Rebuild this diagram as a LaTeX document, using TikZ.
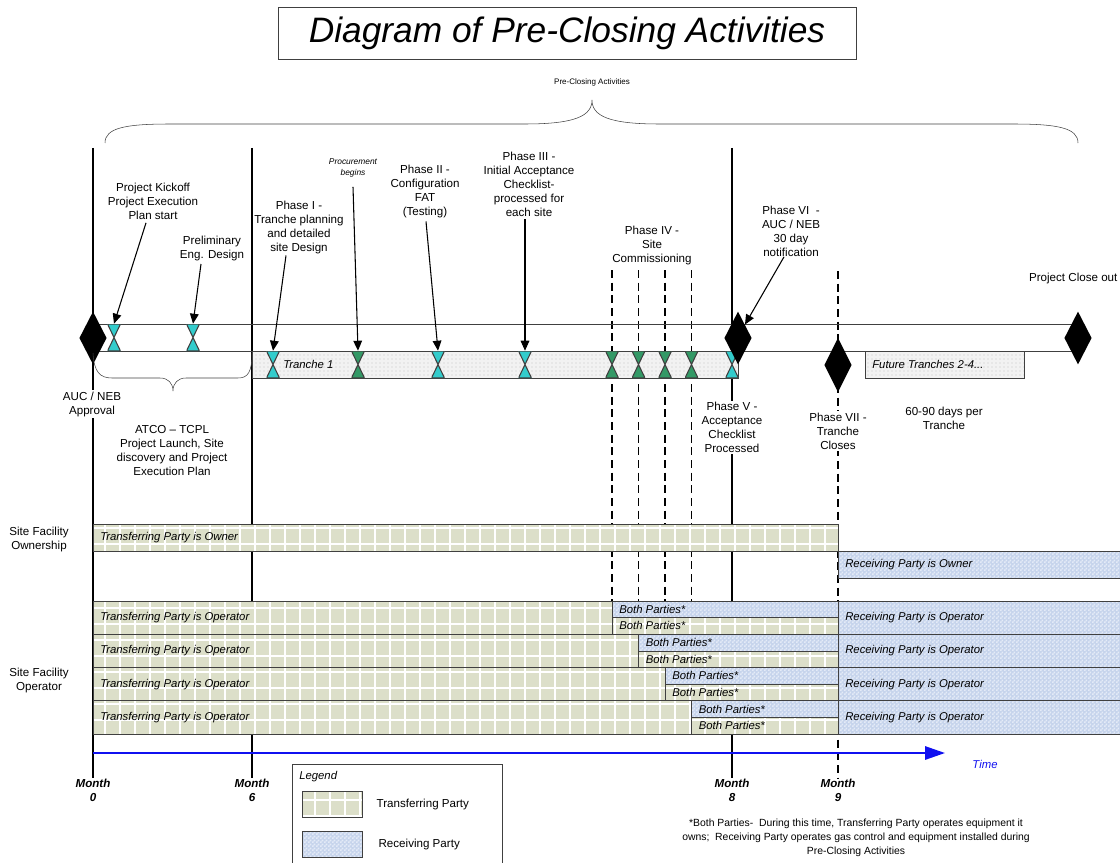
\documentclass[tikz,border=0pt]{standalone}
\usepackage{fontspec}
\setmainfont{Liberation Sans}
\usetikzlibrary{arrows.meta,shapes.geometric,patterns,calc}

\definecolor{trfgreen}{HTML}{DCDFC9}
\definecolor{rcvblue}{HTML}{C6D4EC}
\definecolor{rcvlight}{HTML}{E4EBF7}
\definecolor{gcyan}{HTML}{33CCCC}
\definecolor{ggreen}{HTML}{339966}
\definecolor{edge}{HTML}{404040}
\definecolor{timeblue}{HTML}{1010F0}

\pgfdeclarepatternformonly{finecheck}{\pgfqpoint{0pt}{0pt}}{\pgfqpoint{3pt}{3pt}}{\pgfqpoint{3pt}{3pt}}{%
    \pgfpathrectangle{\pgfqpoint{0pt}{0pt}}{\pgfqpoint{1.5pt}{1.5pt}}%
    \pgfpathrectangle{\pgfqpoint{1.5pt}{1.5pt}}{\pgfqpoint{1.5pt}{1.5pt}}%
    \pgfusepath{fill}}

\tikzset{
    >={Triangle[length=7.5pt,width=6.5pt]},
    txt/.style={
        font=\fontsize{8.7}{10.5}\selectfont,
        align=center,
        inner sep=1pt,
    },
    cut/.style={
        txt,
        fill=white,
    },
    rowtxt/.style={
        font=\fontsize{8.5}{10}\selectfont\itshape,
        anchor=west,
        inner sep=0pt,
    },
    month/.style={
        font=\fontsize{8.7}{10.5}\selectfont\bfseries\itshape,
        align=center,
        inner sep=0pt,
    },
    milestone/.style={
        diamond,
        fill=black,
        inner sep=0pt,
        minimum width=20.5pt,
        minimum height=39.75pt,
    },
    glass/.style={
        inner sep=0pt,
        minimum width=9.75pt,
        minimum height=20.25pt,
        path picture={
            \filldraw[draw=edge, line width=.8pt, fill=#1]
                (path picture bounding box.north west) -- (path picture bounding box.north east)
                -- (path picture bounding box.south west) -- (path picture bounding box.south east) -- cycle;
        },
    },
    trf/.style={
        draw=edge,
        fill=trfgreen,
        path picture={
            \draw[white, line width=.9pt, xstep=11.25pt, ystep=12pt]
                (path picture bounding box.south west) grid (path picture bounding box.north east);
        },
    },
    rcv/.style={
        draw=edge,
        fill=rcvblue,
        path picture={
            \fill[pattern=finecheck, pattern color=rcvlight]
                (path picture bounding box.south west) rectangle (path picture bounding box.north east);
        },
    },
    tranche/.style={
        draw=edge,
        fill=gray!10,
        path picture={
            \fill[pattern=dots, pattern color=gray!45]
                (path picture bounding box.south west) rectangle (path picture bounding box.north east);
        },
    },
    phase/.style={
        dash pattern=on 6pt off 3.5pt,
        line width=.8pt,
    },
    pointer/.style={
        ->,
        line width=.8pt,
    },
}

\begin{document}
\begin{tikzpicture}[x=0.75pt, y=-0.75pt]
    \useasboundingbox (0,0) rectangle (1120,863);

    % title and overall brace
    \node[draw=edge, font=\fontsize{26.5}{30}\selectfont\itshape, minimum width=433.5pt, minimum height=39pt] (title) at (567,33) {Diagram of Pre-Closing Activities};
    \node[font=\fontsize{6}{7}\selectfont] (pre) at (592,82) {Pre-Closing Activities};
    \draw[edge] (105,143) .. controls (105,128) and (125,124) .. (170,124) -- (525,124)
        .. controls (575,124) and (592,116) .. (592,100)
        .. controls (592,116) and (609,124) .. (659,124) -- (1013,124)
        .. controls (1058,124) and (1078,128) .. (1078,143);

    % month labels and month lines
    \node[month] (m0) at (93,790) {Month\\0};
    \node[month] (m6) at (252,790) {Month\\6};
    \node[month] (m8) at (732,790) {Month\\8};
    \node[month] (m9) at (838,790) {Month\\9};
    \draw[line width=1pt] (93,148) -- (m0.north);
    \draw[line width=1pt] (252,148) -- (m6.north);
    \draw[line width=1pt] (732,148) -- (m8.north);
    \draw[phase] (838,271) -- (m9.north);
    \foreach \x in {612,638.5,665,691.5}
        \draw[phase] (\x,270) -- (\x,601);

    % timeline band
    \draw[edge] (93,324) -- (1078,324);
    \draw[edge] (93,351) -- (1078,351);
    \path[tranche] (252,351) rectangle (738,378);
    \node[rowtxt, font=\fontsize{8.5}{10}\selectfont\itshape] (tr1) at (283,364.5) {Tranche 1};
    \path[tranche] (865,351) rectangle (1024,378);
    \node[rowtxt] (tr2) at (872,364.5) {Future Tranches 2-4...};

    \node[glass=gcyan] (g1) at (114,337.5) {};
    \node[glass=gcyan] (g2) at (193,337.5) {};
    \node[glass=gcyan] (g3) at (273,364.5) {};
    \node[glass=ggreen] (g4) at (358,364.5) {};
    \node[glass=gcyan] (g5) at (438,364.5) {};
    \node[glass=gcyan] (g6) at (525,364.5) {};
    \node[glass=ggreen] (g7) at (612,364.5) {};
    \node[glass=ggreen] (g8) at (638.5,364.5) {};
    \node[glass=ggreen] (g9) at (665,364.5) {};
    \node[glass=ggreen] (g10) at (691.5,364.5) {};
    \node[glass=gcyan] (g11) at (732,364.5) {};

    \node[milestone] (d0) at (93,338) {};
    \node[milestone] (d8) at (738,338) {};
    \node[milestone, minimum height=41pt] (d9) at (838,365) {};
    \node[milestone] (dend) at (1078,338) {};

    % start-up brace
    \draw[edge] (93,353) .. controls (94,372) and (100,378) .. (112,378) -- (160,378)
        .. controls (168,378) and (173,383) .. (173,391)
        .. controls (173,383) and (178,378) .. (186,378) -- (238,378)
        .. controls (248,378) and (252,372) .. (252,353);

    % labels above the band
    \node[txt] (kick) at (153,201) {Project Kickoff\\Project Execution\\Plan start};
    \node[txt] (prelim) at (212,248) {Preliminary\\Eng. Design};
    \node[txt] (ph1) at (299,227.5) {Phase I -\\Tranche planning\\and detailed\\site Design};
    \node[txt, font=\fontsize{6.3}{8.2}\selectfont\itshape] (procure) at (353,168) {Procurement\\begins};
    \node[txt] (ph2) at (425,191.5) {Phase II -\\Configuration\\FAT\\(Testing)};
    \node[txt] (ph3) at (529,184.5) {Phase III -\\Initial Acceptance\\Checklist-\\processed for\\each site};
    \node[txt] (ph4) at (652,245) {Phase IV -\\Site\\Commissioning};
    \node[txt] (ph6) at (791,231) {Phase VI\ \ -\\AUC / NEB\\30 day\\notification};
    \node[txt, anchor=east] (close) at (1119,278) {Project Close out};

    \draw[pointer] ($(kick.south)+(-7,2)$) -- (g1.north);
    \draw[pointer] ($(prelim.south)+(-11,2)$) -- (g2.north);
    \draw[pointer] ($(ph1.south)+(-13,0)$) -- (g3.north);
    \draw[pointer] ($(procure.south)+(0,8)$) -- (g4.north);
    \draw[pointer] ($(ph2.south)+(1,2)$) -- (g5.north);
    \draw[pointer] ($(ph3.south)+(-4,1)$) -- (g6.north);
    \draw[pointer] ($(ph6.south)+(-7,-1)$) -- (d8.north east);

    % labels below the band
    \node[cut] (approval) at (92,404) {AUC / NEB\\Approval};
    \node[txt] (atco) at (172,450.5) {ATCO -- TCPL\\Project Launch, Site\\discovery and Project\\Execution Plan};
    \node[cut] (ph5) at (732,427.5) {Phase V -\\Acceptance\\Checklist\\Processed};
    \node[cut] (ph7) at (838,431) {Phase VII -\\Tranche\\Closes};
    \node[txt] (days) at (944,418) {60-90 days per\\Tranche};

    % ownership rows
    \node[txt] (own) at (39,539) {Site Facility\\Ownership};
    \path[trf] (93,524) rectangle (838,551);
    \node[rowtxt] (trfown) at (100,537.5) {Transferring Party is Owner};
    \path[rcv] (838,551) rectangle (1125,578);
    \node[rowtxt] (rcvown) at (845,564.5) {Receiving Party is Owner};

    % operator rows
    \node[txt] (opr) at (39,680.5) {Site Facility\\Operator};
    \foreach \i in {0,...,3}{
        \pgfmathsetmacro\ya{601+33.25*\i}
        \pgfmathsetmacro\yb{\ya+16.6}
        \pgfmathsetmacro\yc{\ya+33.25}
        \pgfmathsetmacro\xs{612+26.5*\i}
        \path[trf] (93,\ya) rectangle (\xs,\yc);
        \path[rcv] (\xs,\ya) rectangle (838,\yb);
        \path[trf] (\xs,\yb) rectangle (838,\yc);
        \path[rcv] (838,\ya) rectangle (1125,\yc);
        \node[rowtxt] (trfop\i) at (100,\ya+16.6) {Transferring Party is Operator};
        \node[rowtxt] (bothup\i) at (\xs+7,\ya+8.3) {Both Parties*};
        \node[rowtxt] (bothlo\i) at (\xs+7,\yb+8.3) {Both Parties*};
        \node[rowtxt] (rcvop\i) at (845,\ya+16.6) {Receiving Party is Operator};
    }

    % time axis
    \coordinate (t0) at (93,753);
    \coordinate (t1) at (945,753);
    \draw[timeblue, line width=1.5pt, -{Triangle[length=15pt,width=10pt]}] (t0) -- (t1);
    \node[rowtxt, anchor=center, text=timeblue] (time) at (985,764) {Time};

    % legend
    \draw[edge] (292,764) rectangle (502,880);
    \node[rowtxt] (legend) at (299,777) {Legend};
    \path[trf] (302,791) rectangle (362,817);
    \node[txt, anchor=west] (legtrf) at (375,804) {Transferring Party};
    \path[rcv] (302,831) rectangle (362,857);
    \node[txt, anchor=west] (legrcv) at (377,844) {Receiving Party};

    % footnote
    \node[txt, font=\fontsize{7.8}{10.5}\selectfont] (note) at (856,838) {*Both Parties-\ \ During this time, Transferring Party operates equipment it\\owns;\ \ Receiving Party operates gas control and equipment installed during\\Pre-Closing Activities};
\end{tikzpicture}
\end{document}
